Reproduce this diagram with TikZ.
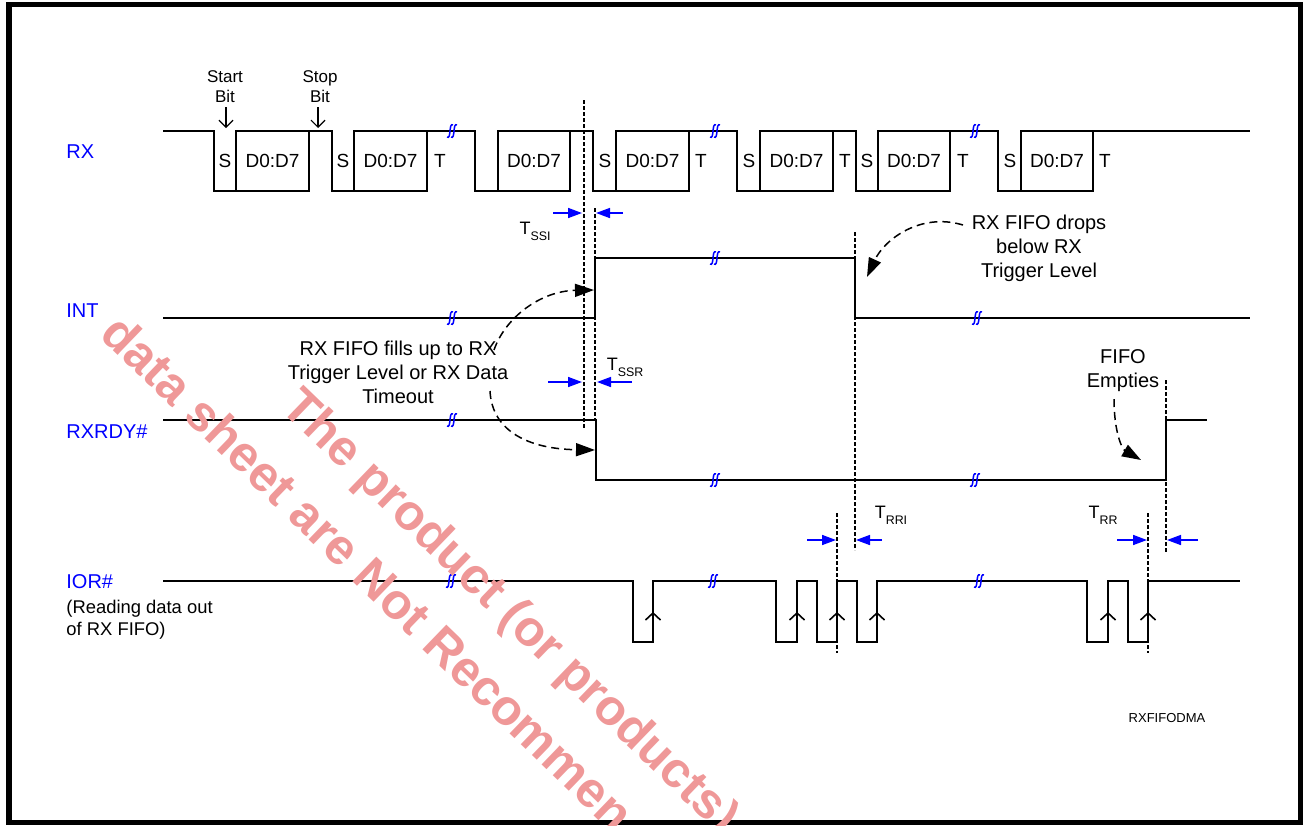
\documentclass[tikz,border=0pt]{standalone}
\usepackage{fontspec}
\setmainfont{Liberation Sans}
\usetikzlibrary{arrows.meta, positioning, calc}
\definecolor{sigblue}{RGB}{0, 0, 255}
\definecolor{markcolor}{RGB}{239, 152, 152}

% break mark on a waveform
\newcommand{\brk}[2]{%
  \draw[brkmark] (#1-5,#2+6) .. controls (#1-0.5,#2+9) and (#1-3.5,#2-9) .. (#1+1,#2-6);
  \draw[brkmark] (#1-1,#2+6) .. controls (#1+3.5,#2+9) and (#1+0.5,#2-9) .. (#1+5,#2-6);}
% timing label
\newcommand{\tsub}[1]{T\raisebox{-3pt}{\fontsize{6.2}{7}\selectfont #1}}

\begin{document}
\begin{tikzpicture}[x=0.5pt, y=-0.5pt,
    wave/.style={line width=1pt},
    databox/.style={draw, line width=1pt},
    guide/.style={dash pattern=on 2pt off 1pt, line width=0.6pt},
    tarrow/.style={sigblue, line width=0.8pt, -{Triangle[length=7pt,width=5pt]}},
    note/.style={dash pattern=on 4pt off 2.5pt, line width=0.75pt,
                 -{Triangle[length=9.5pt,width=6.5pt]}},
    brkmark/.style={sigblue, line width=0.75pt},
    siglabel/.style={sigblue, anchor=west, inner sep=0pt, font=\fontsize{10}{12}\selectfont},
    bitlabel/.style={inner sep=0pt, font=\fontsize{9.5}{11}\selectfont},
    txt/.style={inner sep=0pt, align=center, font=\fontsize{10}{12}\selectfont},
    small/.style={inner sep=0pt, align=center, font=\fontsize{8.5}{10}\selectfont},
    tlabel/.style={inner sep=0pt, font=\fontsize{9}{11}\selectfont},
    wmark/.style={markcolor, rotate=-44, anchor=base west, inner sep=0pt,
                  font=\bfseries\fontsize{25}{25}\selectfont}
]
\useasboundingbox (0,0) rectangle (1304,825);

% Frame
\draw[line width=2.75pt] (9,4.5) rectangle (1300.5,822.5);

% Signal names
\node[siglabel] (rxname) at (66,152) {RX};
\node[siglabel] (intname) at (66,311) {INT};
\node[siglabel] (rdyname) at (66,432) {RXRDY\#};
\node[siglabel] (iorname) at (66,582) {IOR\#};
\node[inner sep=0pt, anchor=north west, align=left, font=\fontsize{9.2}{11}\selectfont]
    (iornote) at (66,600) {(Reading data out\\of RX FIFO)};

% RX
\draw[wave] (163,131) -- (214,131) -- (214,191) -- (309,191) -- (309,131) -- (332,131)
  -- (332,191) -- (427,191) -- (427,131) -- (475,131) -- (475,191) -- (570,191)
  -- (570,131) -- (593,131) -- (593,191) -- (689,191) -- (689,131) -- (737,131)
  -- (737,191) -- (833,191) -- (833,131) -- (856,131) -- (856,191) -- (950,191)
  -- (950,131) -- (998,131) -- (998,191) -- (1093,191) -- (1093,131) -- (1250,131);
\foreach \a/\b [count=\i] in {236/309,354/427,498/570,616/689,760/833,878/950,1021/1093} {
  \draw[databox] (\a,131) rectangle (\b,191);
  \node[bitlabel] (data\i) at ({(\a+\b)/2},161) {D0:D7};
}
\foreach \x [count=\i] in {225,343,605,749,867,1010}
  \node[bitlabel] (start\i) at (\x,161) {S};
\foreach \x [count=\i] in {440,701,845,963,1105}
  \node[bitlabel] (stop\i) at (\x,161) {T};

\node[small] (startbit) at (225,87) {Start\\Bit};
\node[small] (stopbit) at (320,87) {Stop\\Bit};
\coordinate (startedge) at (226,128);
\coordinate (stopedge) at (318,128);
\draw[line width=0.6pt, -{Straight Barb[length=3.5pt,width=7pt]}] (startbit.south -| startedge) ++(0,4) -- (startedge);
\draw[line width=0.6pt, -{Straight Barb[length=3.5pt,width=7pt]}] (stopbit.south -| stopedge) ++(0,4) -- (stopedge);

% INT
\draw[wave] (163,318) -- (595,318) -- (595,258) -- (855,258) -- (855,318) -- (1250,318);

% RXRDY#
\draw[wave] (163,420) -- (596,420) -- (596,480) -- (1166,480) -- (1166,420) -- (1207,420);

% IOR#
\draw[wave] (163,581) -- (633,581) -- (633,642) -- (653,642) -- (653,581) -- (776,581)
  -- (776,642) -- (797,642) -- (797,581) -- (817,581) -- (817,642) -- (837,642)
  -- (837,581) -- (857,581) -- (857,642) -- (877,642) -- (877,581) -- (1087,581)
  -- (1087,642) -- (1108,642) -- (1108,581) -- (1128,581) -- (1128,642) -- (1148,642)
  -- (1148,581) -- (1240,581);
\foreach \x in {653,797,837,877,1108,1148}
  \draw[line width=0.8pt] (\x-7.5,620) -- (\x,613) -- (\x+7.5,620);

% Break marks
\foreach \x/\y in {452/131,715/131,975/131,452/318,715/258,977/318,
                   452/420,715/480,975/480,451/581,713/581,979/581}
  {\brk{\x}{\y}}

% Guide lines
\draw[guide] (584,100) -- (584,428);
\draw[guide] (595,208) -- (595,420);
\draw[guide] (855,232) -- (855,550);
\draw[guide] (837,513) -- (837,653);
\draw[guide] (1148,513) -- (1148,653);
\draw[guide] (1166,380) -- (1166,552);

% Timing arrows
\foreach \n/\xa/\xb/\xc/\xd/\y in {ssi/553/582/623/596/213, ssr/548/582/632/597/382,
                                    rri/807/836/882/856/540, rr/1117/1147/1198/1167/540} {
  \coordinate (\n a) at (\xa,\y);
  \coordinate (\n b) at (\xb,\y);
  \coordinate (\n c) at (\xc,\y);
  \coordinate (\n d) at (\xd,\y);
  \draw[tarrow] (\n a) -- (\n b);
  \draw[tarrow] (\n c) -- (\n d);
}
\node[tlabel] (tssi) at (535,231) {\tsub{SSI}};
\node[tlabel] (tssr) at (625,367) {\tsub{SSR}};
\node[tlabel] (trri) at (891,515) {\tsub{RRI}};
\node[tlabel] (trr) at (1103,515) {\tsub{RR}};

% Notes
\node[txt] (fills) at (398,372) {RX FIFO fills up to RX\\Trigger Level or RX Data\\Timeout};
\node[txt] (drops) at (1039,248) {RX FIFO drops\\below RX\\Trigger Level};
\node[txt] (empties) at (1123,371) {FIFO\\Empties};
\coordinate (fillsa) at (494,350);
\coordinate (fillsb) at (490,391);
\coordinate (dropsa) at (963,225);
\coordinate (emptiesa) at (1114,399);
\coordinate (intrise) at (594,290);
\coordinate (rdyfall) at (595,450);
\coordinate (intfall) at (867,277);
\coordinate (rdyrise) at (1141,460);
\draw[note] (fillsa) .. controls (505,318) and (540,291) .. (intrise);
\draw[note] (fillsb) .. controls (492,432) and (530,449) .. (rdyfall);
\draw[note] (dropsa) .. controls (920,212) and (884,240) .. (intfall);
\draw[note] (emptiesa) .. controls (1114,432) and (1122,449) .. (rdyrise);

\node[inner sep=0pt, font=\fontsize{6.5}{8}\selectfont] (figname) at (1167,718) {RXFIFODMA};

% Watermark
\begin{scope}
\clip (0,0) rectangle (1304,825);
\node[wmark] (wm1) at (98,336) {data sheet are Not Recommen};
\node[wmark] (wm2) at (279,409) {The product (or products)};
\end{scope}

\end{tikzpicture}
\end{document}
